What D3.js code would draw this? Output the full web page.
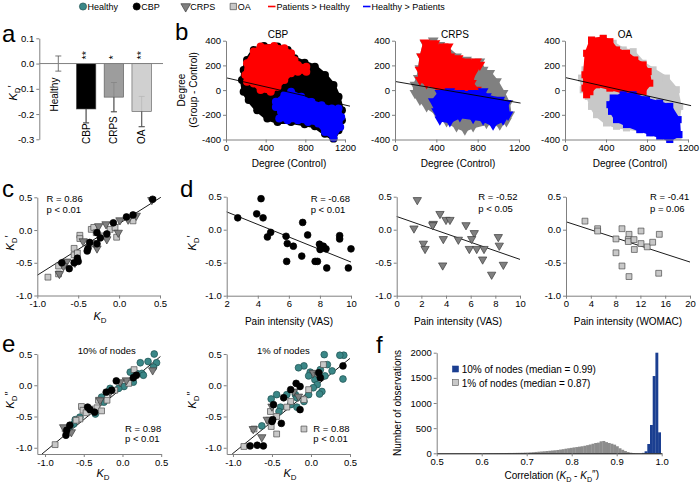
<!DOCTYPE html>
<html><head><meta charset="utf-8">
<script src="https://cdn.jsdelivr.net/npm/d3@7"></script>
<style>body{margin:0;background:#fff}</style>
</head><body><script>
// ---------------- DATA ----------------
const legendLabels = ["Healthy","CBP","CRPS","OA","Patients > Healthy","Healthy > Patients"];

// panel a
const groupsA = ["Healthy","CBP","CRPS","OA"];
const meanA = [0, -0.18, -0.133, -0.19];
const semA = [0.03, 0.055, 0.058, 0.06];
const starsA = ["", "**", "*", "**"];
const ticksA = [0.1, 0, -0.1, -0.2, -0.3];

// panel b : outlines of the point clouds (Degree(Control), Degree(Group - Control))
const titlesB = ["CBP","CRPS","OA"];
const ticksBx = [0, 400, 800, 1200];
const ticksBy = [400, 200, 0, -200, -400];
const cloudCBP = [[212,244],[280,325],[383,358],[520,353],[622,325],[691,258],[793,222],[896,190],[998,122],[1084,41],[1135,-54],[1169,-163],[1169,-244],[1135,-325],[1084,-393],[998,-353],[896,-293],[793,-277],[656,-258],[520,-258],[417,-230],[315,-163],[229,-81],[178,-14],[161,81],[178,163]];
const redCBP = [[195,122],[212,217],[280,312],[349,353],[486,358],[588,339],[656,298],[691,244],[725,203],[810,190],[810,149],[725,149],[656,136],[588,81],[520,27],[451,-14],[349,0],[280,54],[212,68]];
const blueCBP = [[503,-95],[588,-41],[656,-14],[759,-54],[862,-95],[964,-122],[1067,-149],[1135,-149],[1162,-217],[1152,-298],[1084,-385],[998,-339],[930,-271],[827,-258],[725,-244],[622,-244],[537,-230],[554,-176],[503,-136]];
const cloudCRPS = [[257,271],[290,379],[370,400],[434,365],[499,338],[595,271],[692,244],[821,231],[853,164],[917,137],[982,70],[1046,-24],[1094,-105],[1110,-199],[1078,-252],[1014,-279],[885,-266],[756,-293],[676,-320],[595,-293],[499,-252],[402,-185],[306,-132],[241,-78],[193,-24],[193,43],[225,97],[241,177]];
const redCRPS = [[241,164],[257,271],[290,384],[386,379],[434,338],[467,352],[515,352],[531,271],[611,258],[692,231],[789,231],[821,204],[756,137],[740,56],[789,3],[756,-38],[692,-38],[595,-11],[499,3],[418,16],[306,56],[241,83]];
const blueCRPS = [[370,-91],[434,-24],[531,-11],[628,-24],[756,-24],[853,-11],[885,-51],[1014,-78],[1078,-105],[1094,-199],[1046,-239],[949,-279],[853,-239],[756,-226],[628,-212],[531,-252],[434,-239],[402,-172]];
const cloudOA = [[227,298],[259,405],[373,419],[470,379],[568,325],[665,311],[762,217],[859,164],[989,97],[1086,3],[1119,-132],[1103,-239],[1103,-373],[1022,-400],[859,-346],[730,-320],[600,-306],[503,-293],[405,-266],[308,-199],[259,-132],[227,-51],[178,3],[162,97],[195,164]];
const redOA = [[195,124],[211,298],[259,405],[373,419],[438,392],[503,325],[600,298],[681,244],[762,204],[811,150],[827,56],[762,-11],[665,-38],[568,-11],[438,16],[308,43],[243,-13],[211,-38],[195,16]];
const blueOA = [[438,-118],[470,-64],[568,-38],[665,-38],[795,-78],[924,-105],[1022,-132],[1103,-239],[1112,-360],[1022,-400],[924,-373],[827,-346],[730,-320],[600,-279],[503,-239],[454,-172]];
const fitB = [[[0,100],[1250,-130]], [[0,70],[1215,-105]], [[0,102],[1230,-126]]];

// panel c : K_D vs K_D'
const cCBP = [[0.41,0.47],[0.17,0.23],[0.09,0.20],[-0.07,0.11],[-0.15,-0.06],[-0.27,-0.04],[-0.23,-0.12],[-0.27,-0.21],[-0.36,-0.19],[-0.38,-0.28],[-0.39,-0.32],[-0.51,-0.43],[-0.50,-0.48],[-0.55,-0.50],[-0.61,-0.59],[-0.70,-0.50]];
const cCRPS = [[0.40,0.46],[0.21,0.22],[0.11,0.16],[0.01,0.15],[-0.16,0.09],[-0.25,0.06],[-0.01,-0.04],[-0.15,-0.14],[-0.27,-0.28],[-0.30,-0.20],[-0.44,-0.17],[-0.54,-0.50],[-0.64,-0.48],[-0.68,-0.55],[-0.73,-0.67]];
const cOA = [[-0.87,-0.72],[-0.74,-0.67],[-0.74,-0.55],[-0.55,-0.38],[-0.55,-0.28],[-0.51,-0.35],[-0.48,-0.08],[-0.48,-0.13],[-0.34,0.01],[-0.31,0.04],[-0.28,-0.04],[-0.32,-0.21],[-0.19,-0.09],[-0.11,0.01],[-0.05,0.04],[-0.03,-0.11],[0.17,0.14]];
const cFit = [[-1.0,-0.69],[0.51,0.50]];
const ticksK = [0.5, 0, -0.5, -1.0];
const ticksKx = [-1.0, -0.5, 0, 0.5];

// panel d : pain intensity vs K_D'
const dCBP = [[2.71,0.18],[3.93,0.24],[4.21,0.47],[4.34,0.18],[4.62,-0.11],[4.83,-0.04],[5.82,-0.10],[5.90,-0.21],[5.86,-0.48],[6.29,-0.25],[6.83,-0.40],[6.89,0.11],[7.21,-0.08],[7.69,-0.48],[7.84,-0.48],[7.97,-0.22],[8.01,-0.30],[8.22,-0.25],[8.39,-0.29],[8.44,-0.58],[9.27,-0.09],[9.27,-0.14],[9.83,-0.58],[10.0,-0.29]];
const dCRPS = [[1.67,0.45],[1.40,0.02],[2.97,0.09],[2.16,-0.21],[2.30,-0.29],[2.92,0.07],[3.51,0.24],[4.00,0.15],[4.32,0.15],[3.78,-0.14],[3.73,-0.54],[5.00,-0.15],[5.62,0.07],[6.29,-0.05],[6.08,-0.14],[5.89,-0.29],[6.49,-0.29],[7.08,-0.29],[6.97,-0.45],[7.70,-0.68],[8.24,-0.11],[8.32,-0.24],[8.65,-0.53]];
const dOA = [[3.06,0.13],[5.1,0.015],[5.1,-0.02],[8.06,-0.14],[9.03,0.015],[10.16,-0.07],[10.05,-0.15],[10.05,-0.18],[10.97,-0.15],[11.02,-0.30],[12.1,-0.02],[12.1,-0.21],[13.1,-0.26],[13.98,-0.19],[15.05,-0.07],[8.06,-0.35],[9.03,-0.55],[10.16,-0.71],[14.95,-0.66]];
const dFits = [[[2,0.27],[10,-0.49]], [[0,0.20],[10,-0.45]], [[0,0.12],[20,-0.49]]];
const dStats = [["R = -0.68","p < 0.01"],["R = -0.52","p < 0.05"],["R = -0.41","p = 0.06"]];
const dXLabels = ["Pain intensity (VAS)","Pain intensity (VAS)","Pain intensity (WOMAC)"];
const ticksD1 = [2,4,6,8,10], ticksD2 = [0,2,4,6,8,10], ticksD3 = [0,4,8,12,16,20];

// panel e : K_D vs K_D''
const e10Healthy = [[0.41,0.50],[0.33,0.38],[0.44,0.36],[0.23,0.36],[0.40,0.29],[0.10,0.21],[0.18,0.19],[0.25,0.19],[0.27,0.16],[0.14,0.05],[0.02,-0.02],[-0.05,-0.05],[-0.16,-0.05],[-0.27,-0.19],[-0.24,-0.27],[-0.35,-0.46],[-0.55,-0.51],[-0.61,-0.55],[-0.63,-0.62],[-0.69,-0.72]];
const e10CBP = [[-0.08,0.07],[0.14,0.12],[0.18,0.16],[-0.14,-0.08],[-0.21,-0.11],[-0.36,-0.43],[-0.42,-0.39],[-0.72,-0.72],[-0.73,-0.80],[-0.68,-0.64],[-0.45,-0.35]];
const e10CRPS = [[0.39,0.24],[0.05,0.08],[-0.16,-0.11],[-0.29,-0.24],[-0.66,-0.75],[-0.76,-0.67],[-0.03,0.05]];
const e10OA = [[-0.87,-0.95],[0.15,0.25],[0.08,0.03],[-0.10,-0.08],[-0.20,-0.24],[-0.31,-0.24],[-0.33,-0.36],[-0.42,-0.38],[-0.27,-0.41],[-0.53,-0.34],[-0.51,-0.40],[-0.47,-0.44],[-0.55,-0.54],[-0.60,-0.56],[-0.74,-0.70]];
const e1Healthy = [[0.42,0.48],[0.37,0.48],[0.17,0.49],[-0.09,0.31],[-0.16,0.28],[-0.01,0.21],[-0.03,0.15],[0.12,0.25],[0.21,0.33],[0.27,0.23],[0.18,0.15],[0.41,0.10],[0.05,0.09],[0.08,0.01],[0.14,-0.10],[0.03,-0.04],[-0.03,-0.15],[-0.09,-0.26],[-0.18,-0.35],[-0.26,-0.31],[-0.20,-0.15],[-0.31,-0.15],[-0.44,-0.15],[-0.51,-0.22],[-0.39,-0.35],[-0.41,-0.42],[-0.18,-0.20],[-0.63,-0.65],[0.11,-0.14]];
const e1CBP = [[0.41,0.31],[0.10,0.20],[0.12,0.12],[-0.19,0.03],[-0.26,-0.07],[-0.35,-0.20],[-0.48,-0.31],[-0.49,-0.55],[-0.38,-0.61],[-0.50,-0.58],[-0.14,-0.39],[-0.69,-0.96],[-0.78,-0.97],[-0.61,-0.97],[-0.14,-0.02]];
const e1CRPS = [[0.03,0.20],[0.09,0.17],[-0.22,-0.10],[-0.16,-0.18],[-0.56,-0.55],[-0.63,-0.83],[-0.74,-0.70],[-0.50,-0.34]];
const e1OA = [[0.16,0.33],[-0.03,-0.07],[-0.09,-0.23],[-0.26,-0.26],[-0.31,-0.35],[-0.44,-0.50],[-0.54,-0.56],[-0.51,-0.66],[-0.44,-0.78],[-0.73,-0.70],[-0.86,-0.98],[-0.09,-0.70],[-0.52,-0.42]];
const eFits = [[[-1.04,-1.1],[0.49,0.46]], [[-1.01,-1.1],[0.5,0.43]]];
const eTitles = ["10% of nodes","1% of nodes"];
const eStats = [["R  = 0.98","p < 0.01"],["R  = 0.88","p < 0.01"]];

// panel f : histograms of correlation (K_D - K_D'')
const binWidth = 0.006;
const bins10 = [0.956,0.962,0.968,0.974,0.980,0.986,0.992];
const counts10 = [8,40,185,563,1536,2000,417];
const bins1 = [0.580,0.586,0.592,0.598,0.604,0.610,0.616,0.622,0.628,0.634,0.640,0.646,0.652,0.658,0.664,0.670,0.676,0.682,0.688,0.694,0.700,0.706,0.712,0.718,0.724,0.730,0.736,0.742,0.748,0.754,0.760,0.766,0.772,0.778,0.784,0.790,0.796,0.802,0.808,0.814,0.820,0.826,0.832,0.838,0.844,0.850,0.856,0.862,0.868,0.874,0.880,0.886,0.892,0.898,0.904,0.910,0.916,0.922,0.928,0.934,0.940,0.946];
const counts1 = [1,1,1,2,2,2,3,3,4,4,5,5,6,7,7,8,9,10,11,13,15,18,22,27,32,36,40,45,50,55,60,66,74,82,92,100,108,117,124,132,140,150,162,175,190,205,212,238,245,222,205,190,172,140,100,70,45,25,12,5,2,1];
const ticksFx = [0.5,0.6,0.7,0.8,0.9,1.0];
const ticksFy = [0,500,1000,1500,2000];
const legendF = ["10% of nodes (median = 0.99)","1% of nodes (median = 0.87)"];

// ---------------- DRAWING ----------------
const FONT = '"Liberation Sans", Arial, Helvetica, sans-serif';
const AX = "#808080";
const COL = {Healthy:"#3a8787", HealthyS:"#1f5151", CBP:"#000", CRPS:"#808080", CRPSs:"#3c3c3c", OA:"#c8c8c8", OAs:"#4d4d4d", red:"#ff0000", blue:"#0000ff"};
const svg = d3.select("body").append("svg").attr("width",700).attr("height",488)
  .attr("font-family",FONT);

function txt(x,y,s,o={}){
  const t = svg.append("text").attr("x",x).attr("y",y).text(s)
    .attr("font-size",o.size||9).attr("text-anchor",o.anchor||"start").attr("fill",o.fill||"#000");
  if(o.rot){ t.attr("x",null).attr("y",null).attr("transform",`translate(${x},${y}) rotate(-90)`); }
  return t;
}
function kText(x,y,marks,rot,size){
  const t = svg.append("text").attr("text-anchor","middle").attr("font-size",size||11)
    .attr("transform",`translate(${x},${y})`+(rot?" rotate(-90)":""));
  t.append("tspan").attr("font-style","italic").text("K");
  t.append("tspan").attr("font-size","72%").attr("dy",3).text("D");
  if(marks) t.append("tspan").attr("dy",-4).text(marks);
  return t;
}
function styleAxis(g){
  g.attr("font-family",FONT).attr("font-size",9.5);
  g.select(".domain").attr("stroke",AX);
  g.selectAll(".tick line").attr("stroke",AX);
  g.selectAll(".tick text").attr("fill","#000");
}
function leftAxis(scale,x,ticks,fmt){
  const g = svg.append("g").attr("transform",`translate(${x},0)`)
    .call(d3.axisLeft(scale).tickValues(ticks).tickFormat(fmt).tickSize(3).tickSizeOuter(0).tickPadding(2));
  styleAxis(g); return g;
}
function bottomAxis(scale,y,ticks,fmt){
  const g = svg.append("g").attr("transform",`translate(0,${y})`)
    .call(d3.axisBottom(scale).tickValues(ticks).tickFormat(fmt).tickSize(3).tickSizeOuter(0).tickPadding(2));
  styleAxis(g); return g;
}
const f1 = d => d.toFixed(1);
const f0 = d => String(d);

function marker(sel,type,size){
  const s = type==="circle"? d3.symbolCircle : type==="tri"? d3.symbolTriangle : d3.symbolSquare;
  return sel.attr("d", d3.symbol(s, size));
}
const STY = {
  Healthy:{type:"circle",fill:COL.Healthy,stroke:COL.HealthyS,size:36},
  CBP:{type:"circle",fill:"#000",stroke:"#000",size:36},
  CRPS:{type:"tri",fill:COL.CRPS,stroke:COL.CRPSs,size:30},
  OA:{type:"square",fill:COL.OA,stroke:COL.OAs,size:34}
};
function scatter(pts,xs,ys,grp){
  const st = STY[grp];
  svg.append("g").selectAll("path").data(pts).join("path")
    .call(p=>marker(p,st.type,st.size))
    .attr("transform",d=>`translate(${xs(d[0])},${ys(d[1])})`+(st.type==="tri"?" rotate(180)":""))
    .attr("fill",st.fill).attr("stroke",st.stroke).attr("stroke-width",0.7);
}
function fitLine(pts,xs,ys){
  svg.append("path").attr("d",d3.line().x(d=>xs(d[0])).y(d=>ys(d[1]))(pts))
    .attr("stroke","#000").attr("stroke-width",0.9).attr("fill","none");
}

// ---- top legend ----
const legX = [83,136.7,185.7,233.3,268,363];
const legType = ["Healthy","CBP","CRPS","OA"];
legendLabels.forEach((lab,i)=>{
  const x = legX[i], y = 6.5;
  if(i<4){
    const st = STY[legType[i]];
    svg.append("path").call(p=>marker(p,st.type,40))
      .attr("transform",`translate(${x},${y})`+(st.type==="tri"?" rotate(180)":""))
      .attr("fill",st.fill).attr("stroke",st.stroke).attr("stroke-width",0.7);
    txt(x+4.5,y+3.3,lab,{size:9});
  } else {
    svg.append("line").attr("x1",x).attr("x2",x+7.5).attr("y1",y).attr("y2",y)
      .attr("stroke",i===4?COL.red:COL.blue).attr("stroke-width",1.6);
    txt(x+8.5,y+3.3,lab,{size:9});
  }
});

// ---- panel a ----
txt(2,42,"a",{size:24});
const ya = d3.scaleLinear([-0.3,0.1],[139.3,38.3]);
const xa = d3.scalePoint(groupsA,[58.3,141.7]);
const bwA = 19.5;
const barFill = ["none","#000","#8c8c8c","#c8c8c8"];
groupsA.forEach((g,i)=>{
  const x = xa(g), lo = ya(meanA[i]-semA[i]), hi = ya(meanA[i]+semA[i]);
  svg.append("path").attr("d",`M${x},${hi}V${lo}M${x-3},${hi}H${x+3}M${x-3},${lo}H${x+3}`)
    .attr("stroke","#555").attr("stroke-width",0.8).attr("fill","none");
});
svg.append("g").selectAll("rect").data(groupsA.slice(1)).join("rect")
  .attr("x",d=>xa(d)-bwA/2).attr("width",bwA)
  .attr("y",ya(0)).attr("height",(d,i)=>ya(meanA[i+1])-ya(0))
  .attr("fill",(d,i)=>barFill[i+1]).attr("fill-opacity",(d,i)=>i===0?1:0.85)
  .attr("stroke","#555").attr("stroke-width",0.6);
groupsA.forEach((g,i)=>{
  const x = xa(g), lo = ya(meanA[i]-semA[i]), hi = ya(meanA[i]+semA[i]);
  if(i>0){
    svg.append("path").attr("d",`M${x},${ya(meanA[i])}V${lo}M${x-3},${lo}H${x+3}`)
      .attr("stroke","#555").attr("stroke-width",0.8).attr("fill","none");
  }
  if(starsA[i]) txt(x+3.5,ya(0)-4,starsA[i],{size:11,rot:true,fill:"#000"});
  if(i===0) txt(x-0.5,ya(-0.19),g,{size:10,rot:true});
  else txt(x+3.5,ya(-0.3)+4.7,g,{size:10,rot:true});
});
leftAxis(ya,39.3,ticksA,f1);
svg.append("line").attr("x1",39.3).attr("x2",163).attr("y1",ya(0)).attr("y2",ya(0)).attr("stroke",AX);
kText(16.5,93,"\u2032",true,11);

// ---- panel b ----
txt(175,40,"b",{size:24});
const bX0 = [226,395,565], bX1 = [345,519,688];
const bTitleX = [278,455,625], bLabX = [289,458,630];
const yb = d3.scaleLinear([-400,400],[139.5,40.7]);
const cloudData = [[cloudCBP,redCBP,blueCBP],[cloudCRPS,redCRPS,blueCRPS],[cloudOA,redOA,blueOA]];
const cloudCol = ["#000","#808080","#c8c8c8"];
const bType = ["circle","tri","square"];
titlesB.forEach((title,k)=>{
  const xb = d3.scaleLinear([0,1200],[bX0[k],bX1[k]]);
  const line = d3.line().x(d=>xb(d[0])).y(d=>yb(d[1])).curve(d3.curveLinearClosed);
  [[cloudData[k][0],cloudCol[k]],[cloudData[k][1],COL.red],[cloudData[k][2],COL.blue]].forEach(([poly,c])=>{
    svg.append("path").attr("d",line(poly)).attr("fill",c).attr("stroke",c)
      .attr("stroke-width",4).attr("stroke-linejoin","round");
    svg.append("g").selectAll("path").data(poly).join("path")
      .call(p=>marker(p,bType[k],50))
      .attr("transform",d=>`translate(${xb(d[0])},${yb(d[1])})`+(bType[k]==="tri"?" rotate(180)":""))
      .attr("fill",c);
  });
  fitLine(fitB[k],xb,yb);
  leftAxis(yb,bX0[k],ticksBy,f0);
  bottomAxis(xb,139.5,ticksBx,f0);
  txt(bTitleX[k],38,title,{size:10,anchor:"middle"});
  txt(bLabX[k],167,"Degree (Control)",{size:10,anchor:"middle"});
});
txt(185,90,"Degree",{size:10,anchor:"middle",rot:true});
txt(196.5,90,"(Group - Control)",{size:10,anchor:"middle",rot:true});

// ---- panel c ----
txt(2,197,"c",{size:24});
const xc = d3.scaleLinear([-1,0.5],[37.3,160]);
const yc = d3.scaleLinear([-1,0.5],[295.5,197.3]);
fitLine(cFit,xc,yc);
scatter(cOA,xc,yc,"OA");
scatter(cCRPS,xc,yc,"CRPS");
scatter(cCBP,xc,yc,"CBP");
leftAxis(yc,37.3,ticksK,f1);
bottomAxis(xc,295.5,ticksKx,f1);
txt(46.5,202,"R = 0.86",{size:9.5});
txt(46.5,213,"p < 0.01",{size:9.5});
kText(14,243,"\u2032",true,11);
kText(100,320,"",false,11);

// ---- panel d ----
txt(180,197,"d",{size:24});
const yd = d3.scaleLinear([-1,0.5],[295.7,196.7]);
const xds = [d3.scaleLinear([2,10],[226.7,351]), d3.scaleLinear([0,10],[396.7,520]), d3.scaleLinear([0,20],[566,690])];
const dTicks = [ticksD1,ticksD2,ticksD3];
const dPts = [[dCBP,"CBP"],[dCRPS,"CRPS"],[dOA,"OA"]];
const dStatX = [310.7,478.3,650];
const dLabX = [289,458,628];
xds.forEach((xs,k)=>{
  fitLine(dFits[k],xs,yd);
  scatter(dPts[k][0],xs,yd,dPts[k][1]);
  leftAxis(yd,xs.range()[0],ticksK,f1);
  bottomAxis(xs,295.7,dTicks[k],f0);
  txt(dStatX[k],k===0?201.5:200,dStats[k][0],{size:9.5});
  txt(dStatX[k],k===0?213:211.5,dStats[k][1],{size:9.5});
  txt(dLabX[k],325,dXLabels[k],{size:10,anchor:"middle"});
});
kText(195.5,243,"\u2032",true,11);

// ---- panel e ----
txt(2,352,"e",{size:24});
const ye = d3.scaleLinear([-1.1,0.5],[454,354]);
const xes = [d3.scaleLinear([-1.1,0.5],[37.3,161.2]), d3.scaleLinear([-1.08,0.5],[226.7,350])];
const ePts = [[e10Healthy,e10CBP,e10CRPS,e10OA],[e1Healthy,e1CBP,e1CRPS,e1OA]];
const eStatX = [125,313.3], eTitleX = [106.7,283.3], eLabX = [103,290];
xes.forEach((xs,k)=>{
  fitLine(eFits[k],xs,ye);
  scatter(ePts[k][0],xs,ye,"Healthy");
  scatter(ePts[k][3],xs,ye,"OA");
  scatter(ePts[k][2],xs,ye,"CRPS");
  scatter(ePts[k][1],xs,ye,"CBP");
  leftAxis(ye,xs.range()[0],ticksK,f1);
  bottomAxis(xs,454,ticksKx,f1);
  txt(eTitleX[k],353.5,eTitles[k],{size:9.5,anchor:"middle"});
  txt(eStatX[k],431.5,eStats[k][0],{size:9.5});
  txt(eStatX[k],442,eStats[k][1],{size:9.5});
  kText(eLabX[k],477,"",false,11);
});
kText(14,400,"\u2033",true,11);
kText(195.5,400,"\u2033",true,11);

// ---- panel f ----
txt(376,353,"f",{size:24});
const xf = d3.scaleLinear([0.5,1.0],[436.7,661.7]);
const yf = d3.scaleLinear([0,2000],[453.3,352.7]);
svg.append("g").selectAll("rect").data(bins1).join("rect")
  .attr("x",d=>xf(d)).attr("width",d=>xf(d+binWidth)-xf(d)+0.3)
  .attr("y",(d,i)=>yf(counts1[i])).attr("height",(d,i)=>yf(0)-yf(counts1[i]))
  .attr("fill","#8c8c8c");
svg.append("g").selectAll("rect").data(bins10).join("rect")
  .attr("x",d=>xf(d)).attr("width",d=>xf(d+binWidth)-xf(d)+0.2)
  .attr("y",(d,i)=>yf(counts10[i])).attr("height",(d,i)=>yf(0)-yf(counts10[i]))
  .attr("fill","#1b3f91");
leftAxis(yf,436.7,ticksFy,f0);
const fx = bottomAxis(xf,453.3,ticksFx,f1);
fx.select(".domain").attr("stroke","#000");
legendF.forEach((lab,i)=>{
  svg.append("rect").attr("x",452.5).attr("y",366+i*13.5).attr("width",6).attr("height",6)
    .attr("fill",i===0?"#1b3f91":"#c8c8c8").attr("stroke",i===0?"#1b3f91":"#555").attr("stroke-width",0.6);
  txt(461.7,373+i*13.5,lab,{size:10});
});
txt(400.5,403,"Number of  observations",{size:10,anchor:"middle",rot:true});
{
  const t = svg.append("text").attr("x",551.7).attr("y",479).attr("text-anchor","middle").attr("font-size",10);
  t.append("tspan").text("Correlation (");
  t.append("tspan").attr("font-style","italic").text("K");
  t.append("tspan").attr("font-size","72%").attr("dy",3).text("D");
  t.append("tspan").attr("dy",-3).text(" - ");
  t.append("tspan").attr("font-style","italic").text("K");
  t.append("tspan").attr("font-size","72%").attr("dy",3).text("D");
  t.append("tspan").attr("dy",-4).text("\u2033)");
}
</script></body></html>
